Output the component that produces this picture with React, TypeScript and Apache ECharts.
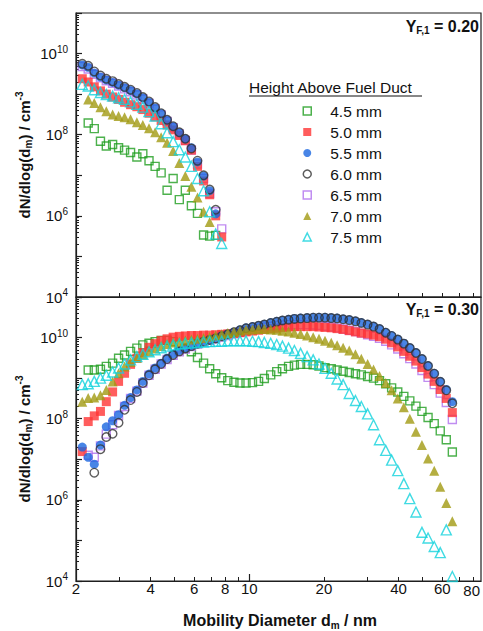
import React, { useEffect, useRef } from 'react';
import * as echarts from 'echarts';

const FONT = 'Liberation Sans, Arial, Helvetica, sans-serif';

// Mobility diameter channels (nm)
const diameters = [
  2.12, 2.24, 2.37, 2.51, 2.65, 2.81, 2.97, 3.14, 3.32, 3.52, 3.72,
  3.94, 4.17, 4.41, 4.66, 4.93, 5.22, 5.52, 5.84, 6.18, 6.54,
  6.92, 7.32, 7.74, 8.19, 8.67, 9.17, 9.70, 10.3, 10.9, 11.5,
  12.2, 12.9, 13.6, 14.4, 15.2, 16.1, 17.1, 18.1, 19.1, 20.2,
  21.4, 22.6, 23.9, 25.3, 26.8, 28.3, 30.0, 31.7, 33.5, 35.5,
  37.5, 39.7, 42.0, 44.4, 47.0, 49.7, 52.6, 55.7, 58.9, 62.3,
  65.9,
];

const seriesNames = ['4.5 mm', '5.0 mm', '5.5 mm', '6.0 mm', '6.5 mm', '7.0 mm', '7.5 mm'];

// log10 of dN/dlog(dm) [cm^-3] per channel, Y_F,1 = 0.20 (null = no data)
const top45 = [null, 8.29, 8.15, 7.84, 7.72, 7.76, 7.68, 7.62, 7.56, 7.45, 7.53, 7.36, 7.22, 7.06, 6.63, 6.92, 6.40, 6.63, 6.25, 6.06, 5.53, 5.50, 5.52];
const top50 = [9.38, 9.30, 9.18, 9.08, 9.00, 8.93, 8.87, 8.80, 8.74, 8.69, 8.62, 8.53, 8.44, 8.35, 8.24, 8.12, 7.98, 7.85, 7.62, 7.22, 6.86, 6.52, 6.00, 5.48];
const top55 = [9.72, 9.66, 9.52, 9.42, 9.35, 9.29, 9.22, 9.16, 9.09, 9.01, 8.91, 8.80, 8.66, 8.52, 8.36, 8.20, 8.05, 7.90, 7.68, 7.33, 6.98, 6.62, 6.05];
const top60 = [9.75, 9.70, 9.56, 9.46, 9.38, 9.32, 9.25, 9.18, 9.11, 9.03, 8.93, 8.82, 8.68, 8.53, 8.37, 8.21, 8.06, 7.90, 7.66, 7.36, 7.00, 6.65, 6.15];
const top65 = [9.68, 9.62, 9.49, 9.40, 9.33, 9.27, 9.20, 9.13, 9.06, 8.98, 8.88, 8.77, 8.63, 8.49, 8.33, 8.17, 8.02, 7.86, 7.62, 7.28, 6.92, 6.55, 6.10, 5.68];
const top70 = [null, 8.87, 8.78, 8.68, 8.58, 8.50, 8.46, 8.43, 8.38, 8.31, 8.24, 8.16, 8.06, 7.94, 7.80, 7.60, 7.30, 6.98, 6.72, 6.45, 6.10, 5.85];
const top75 = [9.24, 9.20, 9.11, 9.04, 8.99, 8.95, 8.91, 8.87, 8.81, 8.75, 8.68, 8.57, 8.46, 8.27, 8.05, 7.83, 7.63, 7.45, 7.22, 6.92, 6.62, 6.10, 5.55, 5.32];

// log10 of dN/dlog(dm) [cm^-3] per channel, Y_F,1 = 0.30
const bot45 = [null, 9.20, 9.20, 9.22, 9.29, 9.37, 9.49, 9.57, 9.66, 9.74, 9.82, 9.86, 9.90, 9.93, 9.93, 9.90, 9.82, 9.74, 9.65, 9.51, 9.37, 9.23, 9.11, 9.01, 8.94, 8.90, 8.88, 8.88, 8.89, 8.92, 8.99, 9.08, 9.16, 9.23, 9.29, 9.32, 9.34, 9.34, 9.33, 9.30, 9.26, 9.23, 9.20, 9.17, 9.14, 9.11, 9.08, 9.04, 9.00, 8.94, 8.86, 8.76, 8.66, 8.55, 8.44, 8.31, 8.18, 8.03, 7.88, 7.70, 7.48, 7.18];
const bot50 = [7.19, 7.93, 8.07, 8.18, 8.42, 8.66, 8.92, 9.12, 9.34, 9.49, 9.63, 9.76, 9.85, 9.93, 9.97, 10.01, 10.03, 10.04, 10.05, 10.05, 10.06, 10.06, 10.07, 10.08, 10.09, 10.10, 10.12, 10.14, 10.16, 10.18, 10.20, 10.22, 10.23, 10.25, 10.26, 10.27, 10.27, 10.27, 10.27, 10.26, 10.25, 10.24, 10.22, 10.20, 10.17, 10.14, 10.11, 10.09, 10.06, 10.02, 9.96, 9.87, 9.77, 9.66, 9.54, 9.42, 9.26, 9.10, 8.92, 8.72, 8.50, 8.15];
const bot55 = [7.30, 7.05, 6.88, 7.35, 7.80, 7.95, 8.10, 8.33, 8.52, 8.71, 8.92, 9.10, 9.25, 9.37, 9.49, 9.59, 9.68, 9.74, 9.80, 9.86, 9.91, 9.95, 9.99, 10.04, 10.09, 10.14, 10.19, 10.24, 10.27, 10.30, 10.33, 10.37, 10.40, 10.43, 10.45, 10.47, 10.48, 10.49, 10.50, 10.50, 10.50, 10.49, 10.48, 10.46, 10.44, 10.41, 10.37, 10.33, 10.28, 10.22, 10.13, 10.05, 9.96, 9.86, 9.75, 9.63, 9.48, 9.31, 9.12, 8.92, 8.72, 8.42];
const bot60 = [null, null, 6.67, 7.25, 7.55, 7.63, 7.90, 8.22, 8.46, 8.66, 8.88, 9.07, 9.22, 9.35, 9.47, 9.57, 9.66, 9.73, 9.79, 9.85, 9.90, 9.94, 9.98, 10.03, 10.08, 10.13, 10.18, 10.23, 10.26, 10.29, 10.32, 10.36, 10.39, 10.42, 10.44, 10.46, 10.47, 10.48, 10.49, 10.49, 10.49, 10.48, 10.47, 10.45, 10.43, 10.40, 10.36, 10.32, 10.27, 10.21, 10.12, 10.04, 9.95, 9.85, 9.74, 9.62, 9.47, 9.30, 9.11, 8.91, 8.70, 8.38];
const bot65 = [null, 7.10, 7.05, 7.33, 7.62, 7.85, 8.08, 8.30, 8.50, 8.68, 8.88, 9.07, 9.22, 9.35, 9.46, 9.56, 9.65, 9.72, 9.78, 9.84, 9.89, 9.93, 9.97, 10.01, 10.05, 10.09, 10.13, 10.17, 10.20, 10.23, 10.26, 10.28, 10.30, 10.31, 10.32, 10.32, 10.32, 10.32, 10.31, 10.30, 10.28, 10.26, 10.24, 10.21, 10.18, 10.15, 10.11, 10.07, 10.03, 9.98, 9.91, 9.82, 9.72, 9.60, 9.48, 9.35, 9.19, 9.02, 8.84, 8.63, 8.40, 7.98];
const bot70 = [8.42, 8.51, 8.52, 8.58, 8.71, 8.92, 9.12, 9.29, 9.40, 9.50, 9.58, 9.66, 9.73, 9.79, 9.84, 9.88, 9.90, 9.93, 9.95, 9.97, 9.99, 10.02, 10.05, 10.08, 10.11, 10.14, 10.17, 10.19, 10.20, 10.21, 10.21, 10.20, 10.19, 10.17, 10.15, 10.12, 10.09, 10.05, 10.01, 9.97, 9.92, 9.87, 9.81, 9.75, 9.68, 9.59, 9.48, 9.35, 9.21, 9.05, 8.88, 8.70, 8.50, 8.28, 8.00, 7.68, 7.35, 7.02, 6.72, 6.32, 5.92, 5.47];
const bot75 = [8.84, 8.86, 8.92, 9.00, 9.07, 9.15, 9.25, 9.35, 9.45, 9.53, 9.59, 9.65, 9.70, 9.75, 9.79, 9.82, 9.84, 9.86, 9.87, 9.88, 9.89, 9.90, 9.91, 9.91, 9.92, 9.92, 9.92, 9.92, 9.91, 9.90, 9.88, 9.86, 9.83, 9.79, 9.74, 9.68, 9.61, 9.53, 9.45, 9.35, 9.24, 9.12, 8.98, 8.84, 8.62, 8.45, 8.30, 8.12, 7.85, 7.48, 7.22, 6.98, 6.72, 6.40, 6.03, 5.70, 5.20, 5.06, 4.85, 4.70, 5.26, 4.11];

const panelTitles = ['0.20', '0.30'];
const xTickLabels = [2, 4, 6, 8, 10, 20, 40, 60];
const xEndLabel = '80'; // last bottom-axis label, placed as text at the right end of the axis
const xMajorTicks = [10];
const xMinorTicks = [3, 4, 5, 6, 7, 8, 9, 20, 30, 40, 50, 60, 70, 80];
const yLabelValues = [1e4, 1e6, 1e8, 1e10];
const yDecades = [4, 5, 6, 7, 8, 9, 10, 11];
const X_MIN = 2;
const X_MAX = 86;

const markerStyles = [
  { symbol: 'rect', size: 8, color: '#1f9e1f', open: true },
  { symbol: 'rect', size: 9, color: '#ff3535', open: false },
  { symbol: 'circle', size: 9, color: '#1a66e0', open: false },
  { symbol: 'circle', size: 8.5, color: '#333333', open: true },
  { symbol: 'rect', size: 8, color: '#b070ee', open: true },
  { symbol: 'triangle', size: 10, color: '#a19a12', open: false },
  { symbol: 'triangle', size: 10, color: '#12d2dc', open: true },
];

const drawOrder = [0, 4, 1, 2, 3, 5, 6];

const toPoints = (arr: (number | null)[]) =>
  arr
    .map((v, i) => (v == null ? null : [diameters[i], Math.pow(10, v)]))
    .filter((p) => p !== null);

const GRID_LEFT = 76;
const GRID_WIDTH = 405;
const GRID_HEIGHT = 284;
const GRID_TOPS = [13, 297];
const AX = '#1e1e1e';
const X_LABEL_MARGIN = 0;

function buildOption() {
  const panels = [
    [top45, top50, top55, top60, top65, top70, top75],
    [bot45, bot50, bot55, bot60, bot65, bot70, bot75],
  ];
  const yMajorTicks = yDecades.map((d) => Math.pow(10, d));
  const yMinorTicks: number[] = [];
  yDecades.slice(0, -1).forEach((d) => {
    for (let m = 2; m <= 9; m++) yMinorTicks.push(m * Math.pow(10, d));
  });

  const grid = GRID_TOPS.map((t) => ({
    left: GRID_LEFT,
    top: t,
    width: GRID_WIDTH,
    height: GRID_HEIGHT,
    show: true,
    borderColor: AX,
    borderWidth: 1.2,
    backgroundColor: 'transparent',
    containLabel: false,
  }));

  const xAxis: any[] = [];
  const yAxis: any[] = [];
  [0, 1].forEach((p) => {
    xAxis.push({
      type: 'log',
      gridIndex: p,
      min: X_MIN,
      max: X_MAX,
      axisLine: { show: true, lineStyle: { color: AX, width: 1.2 } },
      axisTick: { show: true, inside: true, length: 7, customValues: xMajorTicks, lineStyle: { color: AX, width: 1.2 } },
      axisLabel:
        p === 1
          ? {
              show: true,
              customValues: xTickLabels,
              formatter: (v: number) => String(Math.round(v)),
              fontSize: 15,
              color: '#111',
              fontFamily: FONT,
              margin: X_LABEL_MARGIN,
              showMinLabel: true,
              showMaxLabel: true,
            }
          : { show: false },
      splitLine: { show: false },
    });
    xAxis.push({
      type: 'log',
      gridIndex: p,
      min: X_MIN,
      max: X_MAX,
      position: 'bottom',
      axisLine: { show: false },
      axisTick: { show: true, inside: true, length: 4, customValues: xMinorTicks, lineStyle: { color: AX, width: 1 } },
      axisLabel: { show: false },
      splitLine: { show: false },
    });
    yAxis.push({
      type: 'log',
      gridIndex: p,
      min: 1e4,
      max: 1e11,
      position: 'left',
      axisLine: { show: true, lineStyle: { color: AX, width: 1.2 } },
      axisTick: { show: true, inside: true, length: 6, customValues: yMajorTicks, lineStyle: { color: AX, width: 1.2 } },
      axisLabel: {
        show: true,
        customValues: yLabelValues,
        margin: 8,
        showMinLabel: true,
        showMaxLabel: true,
        formatter: (v: number) => `{b|10}{s|${Math.round(Math.log10(v))}}`,
        rich: {
          b: { fontSize: 15, lineHeight: 19, color: '#111', fontFamily: FONT },
          s: { fontSize: 10, lineHeight: 10, verticalAlign: 'top', color: '#111', fontFamily: FONT },
        },
      },
      splitLine: { show: false },
    });
    yAxis.push({
      type: 'log',
      gridIndex: p,
      min: 1e4,
      max: 1e11,
      position: 'left',
      axisLine: { show: false },
      axisTick: { show: true, inside: true, length: 3, customValues: yMinorTicks, lineStyle: { color: AX, width: 1 } },
      axisLabel: { show: false },
      splitLine: { show: false },
    });
  });

  const series: any[] = [];
  [0, 1].forEach((p) => {
    drawOrder.forEach((k) => {
      const st = markerStyles[k];
      series.push({
        type: 'scatter',
        name: seriesNames[k],
        xAxisIndex: p * 2,
        yAxisIndex: p * 2,
        data: toPoints(panels[p][k]),
        symbol: st.symbol,
        symbolSize: st.size,
        itemStyle: st.open
          ? { color: 'rgba(0,0,0,0)', borderColor: st.color, borderWidth: 1.4 }
          : { color: st.color },
        emphasis: { disabled: true },
        silent: true,
        clip: false,
      });
    });
  });

  const yTitle = (cy: number) => ({
    type: 'text',
    x: 24,
    y: cy,
    rotation: Math.PI / 2,
    silent: true,
    style: {
      text: '{t|dN/dlog(d}{sb|m}{t|) / cm}{sp|-3}',
      align: 'center',
      verticalAlign: 'middle',
      textAlign: 'center',
      textVerticalAlign: 'middle',
      rich: {
        t: { fontSize: 15, fontWeight: 'bold', lineHeight: 19, fill: '#111', fontFamily: FONT },
        sb: { fontSize: 10, fontWeight: 'bold', lineHeight: 10, verticalAlign: 'bottom', fill: '#111', fontFamily: FONT },
        sp: { fontSize: 10, fontWeight: 'bold', lineHeight: 10, verticalAlign: 'top', fill: '#111', fontFamily: FONT },
      },
    },
  });

  const yfLabel = (cy: number, txt: string) => ({
    type: 'text',
    x: 479,
    y: cy,
    silent: true,
    style: {
      text: `{a|Y}{f|F,1}{a| = ${txt}}`,
      align: 'right',
      verticalAlign: 'middle',
      textAlign: 'right',
      textVerticalAlign: 'middle',
      rich: {
        a: { fontSize: 16, fontWeight: 'bold', lineHeight: 18, fill: '#111', fontFamily: FONT },
        f: { fontSize: 10, fontWeight: 'bold', lineHeight: 10, verticalAlign: 'bottom', fill: '#111', fontFamily: FONT },
      },
    },
  });

  const axisBottom = GRID_TOPS[1] + GRID_HEIGHT;

  const graphic: any[] = [
    yTitle(GRID_TOPS[0] + GRID_HEIGHT / 2),
    yTitle(GRID_TOPS[1] + GRID_HEIGHT / 2),
    {
      type: 'text',
      id: 'x-end-label',
      right: 3,
      top: axisBottom + 2,
      z: 100,
      silent: true,
      style: {
        text: xEndLabel,
        fontSize: 15,
        fontFamily: FONT,
        fill: '#111',
      },
    },
    {
      type: 'text',
      x: 280,
      y: 620,
      silent: true,
      style: {
        text: '{t|Mobility Diameter d}{sb|m}{t| / nm}',
        align: 'center',
        verticalAlign: 'middle',
        textAlign: 'center',
        textVerticalAlign: 'middle',
        rich: {
          t: { fontSize: 16, fontWeight: 'bold', lineHeight: 20, fill: '#111', fontFamily: FONT },
          sb: { fontSize: 10, fontWeight: 'bold', lineHeight: 10, verticalAlign: 'bottom', fill: '#111', fontFamily: FONT },
        },
      },
    },
    yfLabel(26, panelTitles[0]),
    yfLabel(309, panelTitles[1]),
    {
      type: 'text',
      x: 249,
      y: 87,
      silent: true,
      style: {
        text: 'Height Above Fuel Duct',
        fontSize: 15.5,
        fontFamily: FONT,
        fill: '#111',
        align: 'left',
        verticalAlign: 'middle',
        textAlign: 'left',
        textVerticalAlign: 'middle',
      },
    },
    {
      type: 'line',
      silent: true,
      shape: { x1: 249, y1: 96, x2: 422, y2: 96 },
      style: { stroke: '#111', lineWidth: 1 },
    },
  ];

  return {
    animation: false,
    backgroundColor: '#ffffff',
    grid,
    xAxis,
    yAxis,
    series,
    legend: {
      orient: 'vertical',
      left: 302.5,
      top: 103,
      padding: 0,
      itemWidth: 8,
      itemHeight: 8,
      itemGap: 5,
      selectedMode: false,
      textStyle: { fontSize: 15.5, color: '#111', fontFamily: FONT, padding: [0, 0, 0, 14] },
      data: seriesNames.map((n, k) => {
        const st = markerStyles[k];
        return {
          name: n,
          icon: st.symbol,
          itemStyle: st.open
            ? { color: 'rgba(0,0,0,0)', borderColor: st.color, borderWidth: 1.5 }
            : { color: st.color, borderWidth: 0 },
        };
      }),
    },
    graphic,
  };
}

export default function App() {
  const ref = useRef<HTMLDivElement>(null);
  useEffect(() => {
    document.body.style.margin = '0';
    if (!ref.current) return;
    const chart = echarts.init(ref.current, undefined, { renderer: 'svg' });
    chart.setOption(buildOption() as any);
    return () => {
      chart.dispose();
    };
  }, []);
  return <div ref={ref} style={{ width: 483, height: 631 }} />;
}
